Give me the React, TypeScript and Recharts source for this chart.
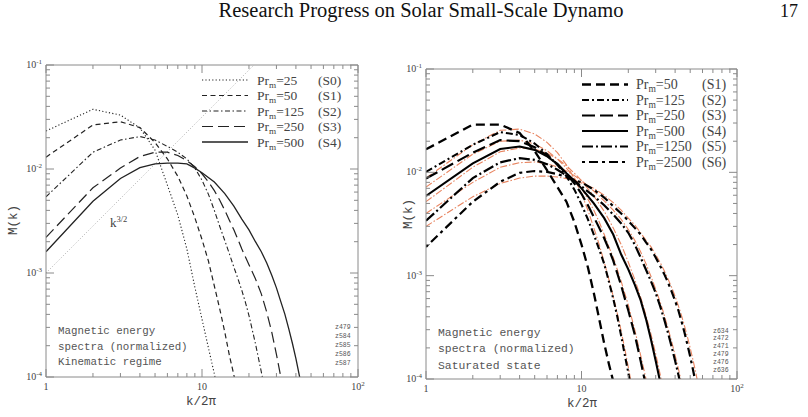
import React from "react";
import { LineChart, Line, XAxis, YAxis } from "recharts";

// ---- left panel: kinematic regime ----
const kS0 = [1, 2, 3, 4, 5, 6, 7, 8, 9, 10, 11, 12, 13];
const mS0 = [0.0232, 0.0375, 0.033, 0.0248, 0.0152, 0.007, 0.0036, 0.0017, 7.3e-4, 3.6e-4, 1.9e-4, 1.07e-4, 6e-5];

const kS1 = [1, 2, 3, 4, 5, 6, 7, 8, 9, 10, 11, 12, 13, 14, 15, 16, 17];
const mS1 = [0.013, 0.0265, 0.0285, 0.025, 0.018, 0.0125, 0.0085, 0.0055, 0.0034, 0.0021, 0.0013, 7.5e-4, 4.5e-4, 2.7e-4, 1.6e-4, 1.05e-4, 6.5e-5];

const kS2 = [1, 2, 3, 4, 5, 6, 7, 8, 9, 10, 11, 12, 13, 14, 15, 16, 17, 18, 19, 20, 22, 24, 25];
const mS2 = [0.0054, 0.0145, 0.019, 0.0205, 0.019, 0.0165, 0.0145, 0.0125, 0.0102, 0.0078, 0.0057, 0.004, 0.0028, 0.00205, 0.00152, 0.00114, 8.8e-4, 6.8e-4, 5.2e-4, 3.9e-4, 2.1e-4, 1.12e-4, 8.2e-5];

const kS3 = [1, 2, 3, 4, 5, 6, 7, 8, 9, 10, 11, 12, 13, 14, 15, 16, 17, 18, 20, 22, 24, 26, 28, 30, 32, 33];
const mS3 = [0.0022, 0.0066, 0.0102, 0.0132, 0.0145, 0.0145, 0.0135, 0.012, 0.0105, 0.009, 0.0075, 0.0062, 0.005, 0.004, 0.0032, 0.0026, 0.0021, 0.0017, 0.0012, 8.8e-4, 6.3e-4, 4.2e-4, 2.7e-4, 1.65e-4, 1.0e-4, 7.8e-5];

const kS4 = [1, 2, 3, 4, 5, 6, 7, 8, 9, 10, 12, 14, 16, 18, 20, 22, 24, 26, 28, 30, 32, 34, 36, 38, 40, 42, 44];
const mS4 = [0.0016, 0.0049, 0.0081, 0.0103, 0.0112, 0.0114, 0.0114, 0.0112, 0.0102, 0.0092, 0.0075, 0.0058, 0.0044, 0.0033, 0.0026, 0.002, 0.0016, 0.00125, 9.5e-4, 7.2e-4, 5.3e-4, 4.0e-4, 2.9e-4, 2.1e-4, 1.5e-4, 1.05e-4, 7.3e-5];

// k^{3/2} reference slope
const kRef = [1, 21.544];
const mRef = [0.001, 0.1];

// ---- right panel: saturated state ----
const kR1 = [1, 2, 3, 4, 5, 6, 7, 8, 9, 10, 11, 12, 13, 14, 15, 16];
const mR1 = [0.0167, 0.029, 0.029, 0.024, 0.016, 0.0105, 0.0072, 0.0052, 0.0033, 0.002, 0.0012, 6.8e-4, 3.8e-4, 2.2e-4, 1.4e-4, 9.5e-5];

const kR2 = [1, 2, 3, 4, 5, 6, 7, 8, 9, 10, 11, 12, 13, 14, 15, 16, 17, 18, 19, 20, 21];
const mR2 = [0.0101, 0.0185, 0.0245, 0.023, 0.019, 0.015, 0.0118, 0.0092, 0.0068, 0.0049, 0.0035, 0.0025, 0.0018, 0.0013, 8.8e-4, 6.0e-4, 4.0e-4, 2.6e-4, 1.7e-4, 1.15e-4, 7.5e-5];

const kR3 = [1, 2, 3, 4, 5, 6, 7, 8, 9, 10, 11, 12, 13, 14, 15, 16, 17, 18, 19, 20, 22, 24, 26];
const mR3 = [0.0087, 0.0155, 0.0205, 0.02, 0.0175, 0.0145, 0.012, 0.0097, 0.0078, 0.0062, 0.0048, 0.0037, 0.0029, 0.0023, 0.0018, 0.0014, 0.00105, 8.0e-4, 6.0e-4, 4.6e-4, 2.7e-4, 1.5e-4, 8.5e-5];

const kR4 = [1, 2, 3, 4, 5, 6, 7, 8, 9, 10, 12, 14, 16, 18, 20, 22, 24, 26, 28, 30, 32];
const mR4 = [0.0059, 0.0122, 0.0168, 0.0178, 0.0165, 0.0143, 0.012, 0.0098, 0.0083, 0.007, 0.005, 0.0036, 0.0025, 0.0016, 0.00115, 8.2e-4, 5.8e-4, 3.8e-4, 2.4e-4, 1.5e-4, 9.5e-5];

const kR5 = [1, 2, 3, 4, 5, 6, 7, 8, 9, 10, 12, 14, 16, 18, 20, 22, 24, 26, 28, 30, 32, 34, 36, 38, 40, 42, 44];
const mR5 = [0.0034, 0.0088, 0.0125, 0.0137, 0.0132, 0.012, 0.0106, 0.0093, 0.0083, 0.0073, 0.0059, 0.0048, 0.0039, 0.0032, 0.0026, 0.002, 0.0015, 0.00114, 8.8e-4, 6.8e-4, 5.1e-4, 3.8e-4, 2.8e-4, 2.05e-4, 1.5e-4, 1.1e-4, 8e-5];

const kR6 = [1, 2, 3, 4, 5, 6, 7, 8, 9, 10, 12, 14, 16, 18, 20, 22, 24, 26, 28, 30, 32, 34, 36, 38, 40, 42, 44, 46, 48, 50, 52, 54];
const mR6 = [0.0019, 0.0052, 0.0081, 0.0099, 0.0103, 0.0101, 0.0096, 0.009, 0.0084, 0.008, 0.0068, 0.0057, 0.0047, 0.004, 0.0034, 0.0029, 0.0025, 0.0021, 0.0018, 0.0015, 0.00125, 0.00104, 8.6e-4, 7.0e-4, 5.7e-4, 4.6e-4, 3.6e-4, 2.8e-4, 2.15e-4, 1.65e-4, 1.25e-4, 9.4e-5];

// fitted curves (thin orange)
const kF2 = [1, 2, 3, 4, 5, 6, 7, 8, 9, 10, 11, 12, 13, 14, 15, 16, 17, 18, 19, 20, 21];
const mF2 = [0.0088, 0.0185, 0.0255, 0.0262, 0.0235, 0.0195, 0.0155, 0.0118, 0.0087, 0.0062, 0.0043, 0.0029, 0.002, 0.00135, 9.2e-4, 6.3e-4, 4.3e-4, 2.9e-4, 1.95e-4, 1.3e-4, 8.8e-5];

const kF3 = [1, 2, 3, 4, 5, 6, 7, 8, 9, 10, 11, 12, 13, 14, 15, 16, 18, 20, 22, 24, 26, 27];
const mF3 = [0.0072, 0.015, 0.02, 0.0205, 0.0188, 0.0162, 0.0135, 0.011, 0.0088, 0.007, 0.0055, 0.0043, 0.0033, 0.0025, 0.0019, 0.0015, 8.8e-4, 5.2e-4, 3.0e-4, 1.7e-4, 1.0e-4, 7.5e-5];

const kF4 = [1, 2, 3, 4, 5, 6, 7, 8, 9, 10, 12, 14, 16, 18, 20, 22, 24, 26, 28, 30, 32, 34];
const mF4 = [0.0052, 0.0112, 0.0158, 0.0172, 0.0168, 0.0153, 0.0135, 0.0116, 0.0098, 0.0083, 0.0059, 0.0042, 0.0029, 0.002, 0.00135, 9.2e-4, 6.2e-4, 4.1e-4, 2.7e-4, 1.75e-4, 1.12e-4, 7.2e-5];

const kF5 = [1, 2, 3, 4, 5, 6, 7, 8, 9, 10, 12, 14, 16, 18, 20, 22, 24, 26, 28, 30, 32, 34, 36, 38, 40, 42, 44, 46];
const mF5 = [0.004, 0.008, 0.0112, 0.0124, 0.0126, 0.0121, 0.0113, 0.0103, 0.0093, 0.0083, 0.0066, 0.0053, 0.0043, 0.0035, 0.0028, 0.0022, 0.0017, 0.0013, 9.8e-4, 7.4e-4, 5.6e-4, 4.2e-4, 3.1e-4, 2.3e-4, 1.7e-4, 1.25e-4, 9.2e-5, 6.8e-5];

const kF6 = [1, 2, 3, 4, 5, 6, 7, 8, 9, 10, 12, 14, 16, 18, 20, 22, 24, 26, 28, 30, 32, 34, 36, 38, 40, 42, 44, 46, 48, 50, 52, 54, 56];
const mF6 = [0.003, 0.0058, 0.0078, 0.0088, 0.0092, 0.0092, 0.009, 0.0087, 0.0083, 0.0079, 0.007, 0.006, 0.0051, 0.0043, 0.0036, 0.0031, 0.0026, 0.0022, 0.0019, 0.0016, 0.00135, 0.00112, 9.3e-4, 7.7e-4, 6.3e-4, 5.1e-4, 4.1e-4, 3.25e-4, 2.55e-4, 2.0e-4, 1.55e-4, 1.2e-4, 9.2e-5];

// legend text
const leftPr = ["25", "50", "125", "250", "500"];
const leftRuns = ["S0", "S1", "S2", "S3", "S4"];
const rightPr = ["50", "125", "250", "500", "1250", "2500"];
const rightRuns = ["S1", "S2", "S3", "S4", "S5", "S6"];
const leftTags = ["z479", "z584", "z585", "z586", "z587"];
const rightTags = ["z634", "z472", "z471", "z479", "z476", "z636"];

// axis decades
const xDecades = [1, 10, 100];
const yDecades = [1e-4, 1e-3, 1e-2, 1e-1];

const FRAME = "#8a8a8a";
const INK = "#444";
const SERIF = "'Liberation Serif', 'Times New Roman', serif";
const MONO = "'Liberation Mono', 'DejaVu Sans Mono', monospace";
const FIT = "#e8845f";

type Series = { key: string; k: number[]; m: number[] };

function buildTable(series: Series[]) {
  const rows = new Map<number, Record<string, number>>();
  series.forEach((s) =>
    s.k.forEach((k, i) => {
      const row = rows.get(k) ?? { k };
      row[s.key] = s.m[i];
      rows.set(k, row);
    })
  );
  return [...rows.values()].sort((a, b) => a.k - b.k);
}

function expandTicks(decades: number[]) {
  const out: number[] = [];
  decades.forEach((d, i) => {
    if (i === decades.length - 1) {
      out.push(d);
      return;
    }
    for (let j = 1; j < 10; j++) out.push(d * j);
  });
  return out;
}

const xTicks = expandTicks(xDecades);
const yTicks = expandTicks(yDecades);

const leftSeries = [
  { key: "s0", k: kS0, m: mS0 },
  { key: "s1", k: kS1, m: mS1 },
  { key: "s2", k: kS2, m: mS2 },
  { key: "s3", k: kS3, m: mS3 },
  { key: "s4", k: kS4, m: mS4 },
  { key: "ref", k: kRef, m: mRef },
];
const rightSeries = [
  { key: "r1", k: kR1, m: mR1 },
  { key: "r2", k: kR2, m: mR2 },
  { key: "r3", k: kR3, m: mR3 },
  { key: "r4", k: kR4, m: mR4 },
  { key: "r5", k: kR5, m: mR5 },
  { key: "r6", k: kR6, m: mR6 },
  { key: "f2", k: kF2, m: mF2 },
  { key: "f3", k: kF3, m: mF3 },
  { key: "f4", k: kF4, m: mF4 },
  { key: "f5", k: kF5, m: mF5 },
  { key: "f6", k: kF6, m: mF6 },
];

const leftTable = buildTable(leftSeries);
const rightTable = buildTable(rightSeries);

const leftStyle: Record<string, { dash?: string; w: number; c: string }> = {
  s0: { dash: "1.2 2.2", w: 1.1, c: "#222" },
  s1: { dash: "5 3.5", w: 1.2, c: "#222" },
  s2: { dash: "5 2.5 1.5 2.5", w: 1.1, c: "#222" },
  s3: { dash: "11 5", w: 1.2, c: "#222" },
  s4: { w: 1.3, c: "#222" },
  ref: { dash: "1 2", w: 0.8, c: "#999" },
};

const rightStyle: Record<string, { dash?: string; w: number; c: string }> = {
  r1: { dash: "9 5", w: 2.3, c: "#000" },
  r2: { dash: "7 3 2 3", w: 2.1, c: "#000" },
  r3: { dash: "13 5", w: 2.2, c: "#000" },
  r4: { w: 2.1, c: "#000" },
  r5: { dash: "11 3 2 3", w: 2.2, c: "#000" },
  r6: { dash: "3 4 9 4", w: 2.2, c: "#000" },
  f2: { dash: "7 2 1.5 2", w: 1.1, c: FIT },
  f3: { dash: "7 2 1.5 2", w: 1.1, c: FIT },
  f4: { dash: "7 2 1.5 2", w: 1.1, c: FIT },
  f5: { dash: "7 2 1.5 2", w: 1.1, c: FIT },
  f6: { dash: "7 2 1.5 2", w: 1.1, c: FIT },
};

const isMajor = (v: number) =>
  Math.abs(Math.log10(v) - Math.round(Math.log10(v))) < 1e-6;

const LeftTick = (props: any) => {
  const { x, y, payload } = props;
  const major = isMajor(payload.value);
  const e = Math.round(Math.log10(payload.value));
  return (
    <g>
      <line x1={x} y1={y} x2={x + (major ? 8 : 4)} y2={y} stroke={FRAME} />
      {major && (
        <text x={x - 4} y={y + 3} textAnchor="end" fontSize={10} fill={INK} fontFamily={SERIF}>
          10
          <tspan dy={-4} fontSize={7}>
            {e}
          </tspan>
        </text>
      )}
    </g>
  );
};

const RightTick = (props: any) => {
  const { x, y, payload } = props;
  const major = isMajor(payload.value);
  return <line x1={x} y1={y} x2={x - (major ? 8 : 4)} y2={y} stroke={FRAME} />;
};

const BottomTick = (props: any) => {
  const { x, y, payload } = props;
  const major = isMajor(payload.value);
  const e = Math.round(Math.log10(payload.value));
  return (
    <g>
      <line x1={x} y1={y} x2={x} y2={y - (major ? 8 : 4)} stroke={FRAME} />
      {major && (
        <text x={x} y={y + 13} textAnchor="middle" fontSize={10} fill={INK} fontFamily={SERIF}>
          {e === 0 ? "1" : "10"}
          {e > 1 && (
            <tspan dy={-4} fontSize={7}>
              {e}
            </tspan>
          )}
        </text>
      )}
    </g>
  );
};

const TopTick = (props: any) => {
  const { x, y, payload } = props;
  const major = isMajor(payload.value);
  return <line x1={x} y1={y} x2={x} y2={y + (major ? 8 : 4)} stroke={FRAME} />;
};

const axisCommon = {
  type: "number" as const,
  scale: "log" as const,
  interval: 0 as const,
  tickLine: false,
  tickSize: 0,
  tickMargin: 0,
  allowDataOverflow: true,
  axisLine: { stroke: FRAME },
};

function Panel({
  data,
  keys,
  styles,
  width,
  height,
  margin,
}: {
  data: Record<string, number>[];
  keys: string[];
  styles: Record<string, { dash?: string; w: number; c: string }>;
  width: number;
  height: number;
  margin: { top: number; right: number; bottom: number; left: number };
}) {
  return (
    <LineChart width={width} height={height} data={data} margin={margin}>
      <XAxis {...axisCommon} dataKey="k" domain={[1, 100]} ticks={xTicks} height={1} tick={<BottomTick />} />
      <XAxis {...axisCommon} xAxisId="top" orientation="top" dataKey="k" domain={[1, 100]} ticks={xTicks} height={1} tick={<TopTick />} />
      <YAxis {...axisCommon} domain={[1e-4, 0.1]} ticks={yTicks} width={1} tick={<LeftTick />} />
      <YAxis {...axisCommon} yAxisId="right" orientation="right" domain={[1e-4, 0.1]} ticks={yTicks} width={1} tick={<RightTick />} />
      {keys.map((key) => (
        <Line
          key={key}
          type="linear"
          dataKey={key}
          stroke={styles[key].c}
          strokeWidth={styles[key].w}
          strokeDasharray={styles[key].dash}
          dot={false}
          activeDot={false}
          connectNulls
          isAnimationActive={false}
        />
      ))}
    </LineChart>
  );
}

const Sub = ({ pr }: { pr: string }) => (
  <>
    Pr
    <tspan dy={3} fontSize="0.68em">
      m
    </tspan>
    <tspan dy={-3}>={pr}</tspan>
  </>
);

export default function App() {
  const leftKeys = ["ref", "s0", "s1", "s2", "s3", "s4"];
  const rightKeys = ["f2", "f3", "f4", "f5", "f6", "r1", "r2", "r3", "r4", "r5", "r6"];
  const leftLegendKeys = ["s0", "s1", "s2", "s3", "s4"];
  const rightLegendKeys = ["r1", "r2", "r3", "r4", "r5", "r6"];
  return (
    <div style={{ position: "fixed", left: 0, top: 0, width: 808, height: 417, background: "#fff", overflow: "hidden" }}>
      <div style={{ position: "absolute", left: 0, top: 0 }}>
        <Panel
          data={leftTable}
          keys={leftKeys}
          styles={leftStyle}
          width={400}
          height={417}
          margin={{ top: 64, right: 41, bottom: 39, left: 45 }}
        />
      </div>
      <div style={{ position: "absolute", left: 400, top: 0 }}>
        <Panel
          data={rightTable}
          keys={rightKeys}
          styles={rightStyle}
          width={408}
          height={417}
          margin={{ top: 68, right: 70, bottom: 37, left: 25 }}
        />
      </div>
      <svg
        width={808}
        height={417}
        style={{ position: "absolute", left: 0, top: 0, pointerEvents: "none" }}
      >
        <text x={421} y={17} textAnchor="middle" fontSize={20.5} fontFamily={SERIF} fill="#111">
          Research Progress on Solar Small-Scale Dynamo
        </text>
        <text x={798} y={17} textAnchor="end" fontSize={18} fontFamily={SERIF} fill="#111">
          17
        </text>

        {/* left legend */}
        {leftLegendKeys.map((key, i) => {
          const y = 80 + i * 15.5;
          const s = leftStyle[key];
          return (
            <g key={key}>
              <line x1={202} x2={248} y1={y} y2={y} stroke={s.c} strokeWidth={s.w} strokeDasharray={s.dash} />
              <text x={257} y={y + 4.5} fontSize={13.5} fontFamily={SERIF} fill={INK}>
                <Sub pr={leftPr[i]} />
              </text>
              <text x={318} y={y + 4.5} fontSize={13.5} fontFamily={SERIF} fill={INK}>
                ({leftRuns[i]})
              </text>
            </g>
          );
        })}

        {/* right legend */}
        {rightLegendKeys.map((key, i) => {
          const y = 84.5 + i * 15.5;
          const s = rightStyle[key];
          return (
            <g key={key}>
              <line x1={582} x2={628} y1={y} y2={y} stroke={s.c} strokeWidth={s.w} strokeDasharray={s.dash} />
              <text x={636} y={y + 4.5} fontSize={14} fontFamily={SERIF} fill={INK}>
                <Sub pr={rightPr[i]} />
              </text>
              <text x={702} y={y + 4.5} fontSize={14} fontFamily={SERIF} fill={INK}>
                ({rightRuns[i]})
              </text>
            </g>
          );
        })}

        {/* slope label */}
        <text x={110} y={227} fontSize={13} fontFamily={SERIF} fill={INK}>
          k
          <tspan dy={-5} fontSize={8.5}>
            3/2
          </tspan>
        </text>

        {/* annotations */}
        <g fontFamily={MONO} fill="#555" fontSize={10.8}>
          <text x={58} y={334}>Magnetic energy</text>
          <text x={58} y={349.5}>spectra (normalized)</text>
          <text x={58} y={365}>Kinematic regime</text>
        </g>
        <g fontFamily={MONO} fill="#555" fontSize={11.4}>
          <text x={438} y={335.5}>Magnetic energy</text>
          <text x={438} y={352}>spectra (normalized)</text>
          <text x={438} y={369}>Saturated state</text>
        </g>
        <g fontFamily={MONO} fill="#555" fontSize={6.5}>
          {leftTags.map((t, i) => (
            <text key={t} x={335} y={329 + i * 9}>
              {t}
            </text>
          ))}
          {rightTags.map((t, i) => (
            <text key={t + i} x={713} y={332.5 + i * 7.9}>
              {t}
            </text>
          ))}
        </g>

        {/* axis titles */}
        <g fontFamily={MONO} fill={INK} fontSize={12.5}>
          <text x={201} y={405} textAnchor="middle">
            k/2π
          </text>
          <text x={582} y={407} textAnchor="middle">
            k/2π
          </text>
          <text transform="translate(17,220) rotate(-90)" textAnchor="middle">
            M(k)
          </text>
          <text transform="translate(412,214) rotate(-90)" textAnchor="middle">
            M(k)
          </text>
        </g>
      </svg>
    </div>
  );
}
